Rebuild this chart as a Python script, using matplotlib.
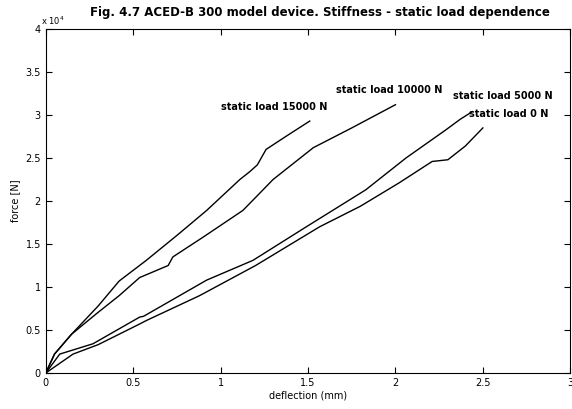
#!/usr/bin/env python3
import matplotlib
matplotlib.use("Agg")
import matplotlib.pyplot as plt
from matplotlib.ticker import FuncFormatter

# deflection [mm] / force [N]
defl_15000 = [0, 0.05, 0.147, 0.30, 0.42, 0.575, 0.75, 0.92, 1.11, 1.166, 1.21, 1.26, 1.38, 1.51]
force_15000 = [0, 2200, 4500, 7800, 10700, 13100, 16000, 18900, 22500, 23400, 24200, 26000, 27600, 29300]

defl_10000 = [0, 0.05, 0.147, 0.29, 0.42, 0.537, 0.70, 0.727, 0.90, 1.127, 1.185, 1.30, 1.53, 1.75, 2.0]
force_10000 = [0, 2200, 4500, 6900, 9000, 11100, 12500, 13500, 15800, 18900, 20100, 22500, 26200, 28500, 31200]

defl_5000 = [0, 0.08, 0.27, 0.537, 0.56, 0.92, 1.185, 1.49, 1.83, 2.06, 2.29, 2.37, 2.44]
force_5000 = [0, 2200, 3400, 6500, 6600, 10800, 13100, 17000, 21300, 25000, 28300, 29500, 30400]

defl_0 = [0, 0.156, 0.30, 0.537, 0.575, 0.88, 1.20, 1.566, 1.80, 2.02, 2.21, 2.30, 2.40, 2.50]
force_0 = [0, 2200, 3300, 5700, 6100, 9000, 12500, 17000, 19400, 22100, 24600, 24800, 26400, 28500]

series = [
    (defl_15000, force_15000, "static load 15000 N", (1.0, 30300)),
    (defl_10000, force_10000, "static load 10000 N", (1.66, 32300)),
    (defl_5000, force_5000, "static load 5000 N", (2.33, 31600)),
    (defl_0, force_0, "static load 0 N", (2.42, 29500)),
]

fig = plt.figure(figsize=(5.72, 4.09), dpi=100)
ax = fig.add_axes([0.080, 0.088, 0.917, 0.841])

for x, y, label, (tx, ty) in series:
    ax.plot(x, y, color="black", lw=1.0)
    ax.text(tx, ty, label, fontsize=7, fontweight="bold", va="bottom")

ax.set_xlim(0, 3)
ax.set_ylim(0, 40000)
ax.set_xticks([0, 0.5, 1, 1.5, 2, 2.5, 3])
ax.set_yticks([0, 5000, 10000, 15000, 20000, 25000, 30000, 35000, 40000])
ax.xaxis.set_major_formatter(FuncFormatter(lambda v, p: f"{v:g}"))
ax.yaxis.set_major_formatter(FuncFormatter(lambda v, p: f"{v / 1e4:g}"))
ax.tick_params(direction="in", top=True, right=True, labelsize=7, length=4)
ax.text(-0.01, 1.005, r"x 10$^4$", transform=ax.transAxes, fontsize=6,
        ha="left", va="bottom")

ax.set_xlabel("deflection (mm)", fontsize=7, labelpad=2)
ax.set_ylabel("force [N]", fontsize=7, labelpad=4)
fig.suptitle("Fig. 4.7 ACED-B 300 model device. Stiffness - static load dependence",
             x=0.56, y=0.985, fontsize=8.5, fontweight="bold")

fig.savefig("out.png", dpi=100)
